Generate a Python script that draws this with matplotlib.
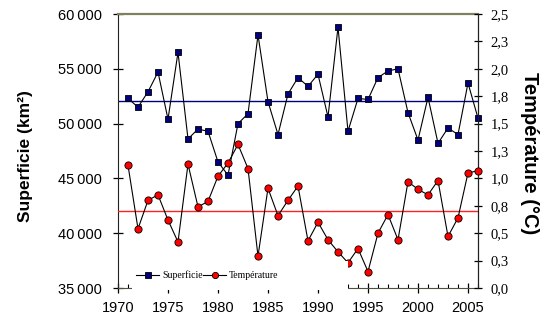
import matplotlib
matplotlib.use('Agg')
import matplotlib.pyplot as plt
from matplotlib.ticker import MultipleLocator, FuncFormatter
from matplotlib.patches import Rectangle
from matplotlib.lines import Line2D

# donnees
years = list(range(1971, 2007))
superficie = [52300, 51500, 52900, 54700, 50400, 56500, 48600, 49500, 49300, 46500,
              45300, 50000, 50900, 58100, 52000, 49000, 52700, 54200, 53400, 54500,
              50600, 58800, 49300, 52300, 52200, 54200, 54800, 55000, 51000, 48500,
              52400, 48200, 49600, 49000, 53700, 50500]
temperature = [1.12, 0.54, 0.80, 0.85, 0.62, 0.42, 1.13, 0.74, 0.79, 1.02,
               1.14, 1.31, 1.09, 0.29, 0.91, 0.66, 0.80, 0.93, 0.43, 0.60,
               0.44, 0.33, 0.23, 0.36, 0.15, 0.50, 0.67, 0.44, 0.97, 0.90,
               0.85, 0.98, 0.47, 0.64, 1.05, 1.07]
superficie_moy = 52050
temperature_moy = 0.70

narrow = ['Liberation Sans Narrow', 'Liberation Sans', 'DejaVu Sans']
serif = ['Liberation Serif', 'DejaVu Serif']
bold = ['Liberation Sans', 'DejaVu Sans']

fig = plt.figure(figsize=(5.4, 3.26), dpi=100)
ax = fig.add_axes([118/540, 1 - 288/326, 360/540, 274/326])
ax2 = ax.twinx()

ax.plot(years, superficie, color='black', lw=0.8, marker='s', ms=5,
        mfc='#000080', mec='black', mew=0.6, zorder=3, clip_on=False)
ax.axhline(superficie_moy, color='#000080', lw=1.0, zorder=2)
ax2.plot(years, temperature, color='black', lw=0.8, marker='o', ms=5.2,
         mfc='#ff0000', mec='black', mew=0.6, zorder=3, clip_on=False)
ax2.axhline(temperature_moy, color='#ff2020', lw=1.0, zorder=2)

ax.set_xlim(1970, 2006)
ax.set_ylim(35000, 60000)
ax2.set_ylim(0, 2.5)

ax.xaxis.set_major_locator(MultipleLocator(5))
ax.xaxis.set_minor_locator(MultipleLocator(1))
ax.yaxis.set_major_locator(MultipleLocator(5000))
ax2.yaxis.set_major_locator(MultipleLocator(0.25))
ax.yaxis.set_major_formatter(FuncFormatter(lambda v, p: '%d\u2009%03d' % (v // 1000, v % 1000)))
ax2.yaxis.set_major_formatter(FuncFormatter(lambda v, p: ('%.1f' % (round(v * 10 + 1e-6) / 10)).replace('.', ',')))

ax.tick_params(axis='y', direction='inout', length=7, width=0.9, pad=8)
ax.tick_params(axis='x', which='major', direction='inout', length=6.5, width=0.9, pad=6)
ax.tick_params(axis='x', which='minor', direction='in', length=3, width=0.8)
ax2.tick_params(axis='y', direction='inout', length=6, width=0.9, pad=6)

for lab in ax.get_yticklabels() + ax.get_xticklabels():
    lab.set_family(narrow)
    lab.set_fontsize(10.5)
for lab in ax2.get_yticklabels():
    lab.set_family(serif)
    lab.set_fontsize(10.5)

ax.spines['top'].set_color('#808060')
ax.spines['top'].set_linewidth(1.6)
ax.spines['bottom'].set_color('#505040')
ax.spines['left'].set_color('#202020')
ax2.spines['right'].set_color('#202020')
for s in ['top', 'bottom', 'left']:
    ax2.spines[s].set_visible(False)

ax.set_ylabel('Superficie (km²)', family=bold, fontsize=12.5, fontweight='bold')
ax.yaxis.set_label_coords(-0.236, 0.48)
ax2.set_ylabel('Température (°C)', family=bold, fontsize=14.5, fontweight='bold',
               rotation=270, va='bottom')
ax2.yaxis.set_label_coords(1.117, 0.493)

# zone blanche de la legende (elle masque le bas du graphique)
ax2.add_patch(Rectangle((0.04, -0.007), 0.6, 0.105, transform=ax2.transAxes,
                        facecolor='white', edgecolor='none', zorder=5, clip_on=False))
handles = [Line2D([], [], color='black', lw=0.8, marker='s', ms=4.5, mfc='#000080', mec='black', mew=0.6),
           Line2D([], [], color='black', lw=0.8, marker='o', ms=4.5, mfc='#ff0000', mec='black', mew=0.6)]
leg = ax2.legend(handles, ['Superficie', 'Température'], loc='center left',
                 bbox_to_anchor=(0.05, 0.047), ncol=2, frameon=False,
                 prop={'family': serif, 'size': 7}, handlelength=2.4,
                 handletextpad=0.3, columnspacing=0.0, borderaxespad=0, borderpad=0)
leg.set_zorder(6)

fig.savefig('out.png', dpi=100)
